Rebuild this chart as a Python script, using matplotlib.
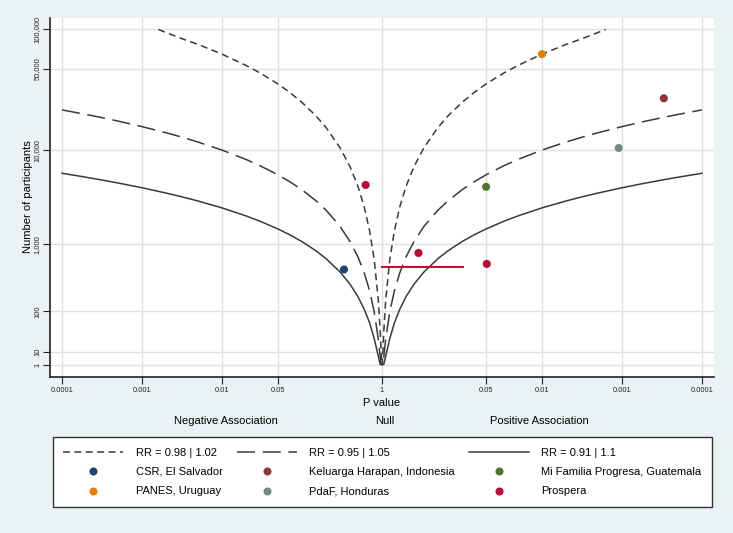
#!/usr/bin/env python3
# -*- coding: utf-8 -*-
"""
Albatross plot: study sizes against P value, with RR contours.
"""

#*********************************************************************************
import numpy as np
import matplotlib
matplotlib.use('Agg')
import matplotlib.pyplot as plt
from matplotlib.lines import Line2D
from matplotlib import transforms

plt.rcParams['font.family'] = ['Liberation Sans', 'DejaVu Sans']
plt.rcParams['lines.scale_dashes'] = False

#*********************************************************************************
# contour curves (one side; mirrored for the other side)
p_rr098 = [0.99, 0.98, 0.95, 0.9, 0.8, 0.7, 0.6, 0.5, 0.4, 0.3, 0.2, 0.15, 0.1,
           0.07, 0.05, 0.03, 0.02, 0.01, 0.005, 0.003, 0.0016]
n_rr098 = [1.5, 6.2, 38, 155, 630, 1450, 2700, 4460, 6940, 10500, 16100, 20300,
           26500, 32200, 37700, 46200, 53000, 65000, 77200, 86300, 100000]

p_rr095 = [0.975, 0.95, 0.9, 0.8, 0.7, 0.6, 0.5, 0.4, 0.3, 0.2, 0.15, 0.1, 0.07,
           0.05, 0.03, 0.02, 0.01, 0.005, 0.003, 0.002, 0.001, 0.0005, 0.0003,
           0.0002, 0.0001]
n_rr095 = [1.5, 6, 24, 97, 225, 416, 690, 1070, 1630, 2490, 3140, 4100, 4970,
           5810, 7130, 8190, 10040, 11920, 13330, 14450, 16390, 18340, 19780,
           20930, 22900]

p_rr091 = [0.95, 0.9, 0.8, 0.7, 0.6, 0.5, 0.4, 0.3, 0.2, 0.15, 0.1, 0.07, 0.05,
           0.03, 0.02, 0.01, 0.005, 0.003, 0.002, 0.001, 0.0005, 0.0003, 0.0002,
           0.0001]
n_rr091 = [1.6, 6.3, 25, 59, 109, 181, 282, 427, 653, 824, 1076, 1305, 1527,
           1872, 2151, 2639, 3133, 3502, 3796, 4306, 4818, 5196, 5500, 6020]

curve_labels = ['RR = 0.98 | 1.02', 'RR = 0.95 | 1.05', 'RR = 0.91 | 1.1']

# studies
studies = ['CSR, El Salvador', 'Keluarga Harapan, Indonesia',
           'Mi Familia Progresa, Guatemala', 'PANES, Uruguay',
           'PdaF, Honduras', 'Prospera']
study_colors = ['#1a476f', '#90353b', '#55752f', '#e37e00', '#6e8e84', '#c10534']

# points: study, P value, direction (-1 negative / +1 positive), participants
pt_study = ['CSR, El Salvador', 'Keluarga Harapan, Indonesia',
            'Mi Familia Progresa, Guatemala', 'PANES, Uruguay',
            'PdaF, Honduras', 'Prospera', 'Prospera', 'Prospera']
pt_p = [0.335, 0.0003, 0.05, 0.01, 0.0011, 0.625, 0.35, 0.049]
pt_dir = [-1, 1, 1, 1, 1, -1, 1, 1]
pt_n = [465, 28700, 4400, 65000, 10500, 4600, 775, 555]

# Prospera result reported as a P value range
range_p = [1.0, 0.096]
range_n = 500

xtick_p = [0.0001, 0.001, 0.01, 0.05, 1, 0.05, 0.01, 0.001, 0.0001]
xtick_dir = [-1, -1, -1, -1, 1, 1, 1, 1, 1]
xtick_labels = ['0.0001', '0.001', '0.01', '0.05', '1', '0.05', '0.01', '0.001', '0.0001']
ytick_vals = [1, 10, 100, 1000, 10000, 50000, 100000]
ytick_labels = ['1', '10', '100', '1,000', '10,000', '50,000', '100,000']

#*********************************************************************************
def to_x(p, d):
   return d * -np.log10(np.asarray(p, dtype=float))

def fwd(n):
   n = np.asarray(n, dtype=float)
   with np.errstate(divide='ignore', invalid='ignore'):
      L = np.log10(np.clip(n, 1e-30, None))
   return np.sign(L) * L**2

def inv(y):
   y = np.asarray(y, dtype=float)
   return 10**(np.sign(y) * np.sqrt(np.abs(y)))

#*********************************************************************************
fig = plt.figure(figsize=(7.33, 5.33), dpi=100)
fig.patch.set_facecolor('#eaf2f3')
ax = fig.add_axes([50/733, 1-377/533, 664/733, 359/533])
ax.set_facecolor('white')
ax.set_yscale('function', functions=(fwd, inv))

line_col = '#3a3a3a'
styles = [(0, (5, 3.2)), (0, (13, 5.5)), '-']
curves = [(p_rr098, n_rr098), (p_rr095, n_rr095), (p_rr091, n_rr091)]
handles_lines = []
for (p, n), ls, lab in zip(curves, styles, curve_labels):
   p = np.array(p); n = np.array(n)
   x = np.concatenate([to_x(p[::-1], -1), to_x(p, 1)])
   y = np.concatenate([n[::-1], n])
   ax.plot(x, y, color=line_col, lw=1.1, ls=ls, zorder=2)
   handles_lines.append(Line2D([], [], color=line_col, lw=1.1, ls=ls))

ax.plot(to_x(range_p, 1), [range_n, range_n], color=study_colors[5], lw=1.4, zorder=3)

for s, p, d, n in zip(pt_study, pt_p, pt_dir, pt_n):
   ax.scatter(to_x(p, d), n, s=34, color=study_colors[studies.index(s)],
              edgecolors='none', zorder=4)

ax.set_xlim(-4.15, 4.15)
ax.set_ylim(0.113, 121600)
ax.set_xticks(to_x(xtick_p, xtick_dir))
ax.set_xticklabels(xtick_labels)
ax.set_yticks(ytick_vals)
ax.set_yticklabels(ytick_labels)
ax.minorticks_off()
ax.tick_params(axis='both', length=5, width=0.8, color='#222222', labelsize=5.4,
               labelcolor='#222222', pad=2)
ax.tick_params(axis='y', labelrotation=90, pad=1.5)
for lab in ax.get_yticklabels():
   lab.set_va('center')

ax.grid(True, color='#e0e0e0', lw=1.0)
ax.set_axisbelow(True)
for side in ['top', 'right']:
   ax.spines[side].set_visible(False)
for side in ['left', 'bottom']:
   ax.spines[side].set_color('#222222')
   ax.spines[side].set_linewidth(1.2)

# axis titles and association labels
fig.text(28/733, 1-197/533, 'Number of participants', rotation=90,
         ha='center', va='center', fontsize=8)
fig.text(382/733, 1-403/533, 'P value', ha='center', va='center', fontsize=8)
trans = transforms.blended_transform_factory(ax.transData, fig.transFigure)
ax.text(-1.95, 1-421/533, 'Negative Association', transform=trans,
        ha='center', va='center', fontsize=8)
ax.text(0.03, 1-421/533, 'Null', transform=trans, ha='center', va='center', fontsize=8)
ax.text(1.97, 1-421/533, 'Positive Association', transform=trans,
        ha='center', va='center', fontsize=8)

# legend (column-major order to get rows as in the original)
h_pts = [Line2D([], [], marker='o', ls='none', color=c, markersize=5.8,
                markeredgewidth=0) for c in study_colors]
handles = [handles_lines[0], h_pts[0], h_pts[3],
           handles_lines[1], h_pts[1], h_pts[4],
           handles_lines[2], h_pts[2], h_pts[5]]
labels = [curve_labels[0], studies[0], studies[3],
          curve_labels[1], studies[1], studies[4],
          curve_labels[2], studies[2], studies[5]]
leg = fig.legend(handles, labels, ncol=3, loc='upper center',
                 bbox_to_anchor=(382.5/733, 1-437/533), fontsize=8,
                 frameon=True, fancybox=False, edgecolor='#333333', framealpha=1,
                 handlelength=5.4, handletextpad=1.1, columnspacing=1.3,
                 borderpad=0.95, labelspacing=0.85, numpoints=1, borderaxespad=0)
leg.get_frame().set_linewidth(1.0)

fig.savefig('out.png', dpi=100, facecolor=fig.get_facecolor())
